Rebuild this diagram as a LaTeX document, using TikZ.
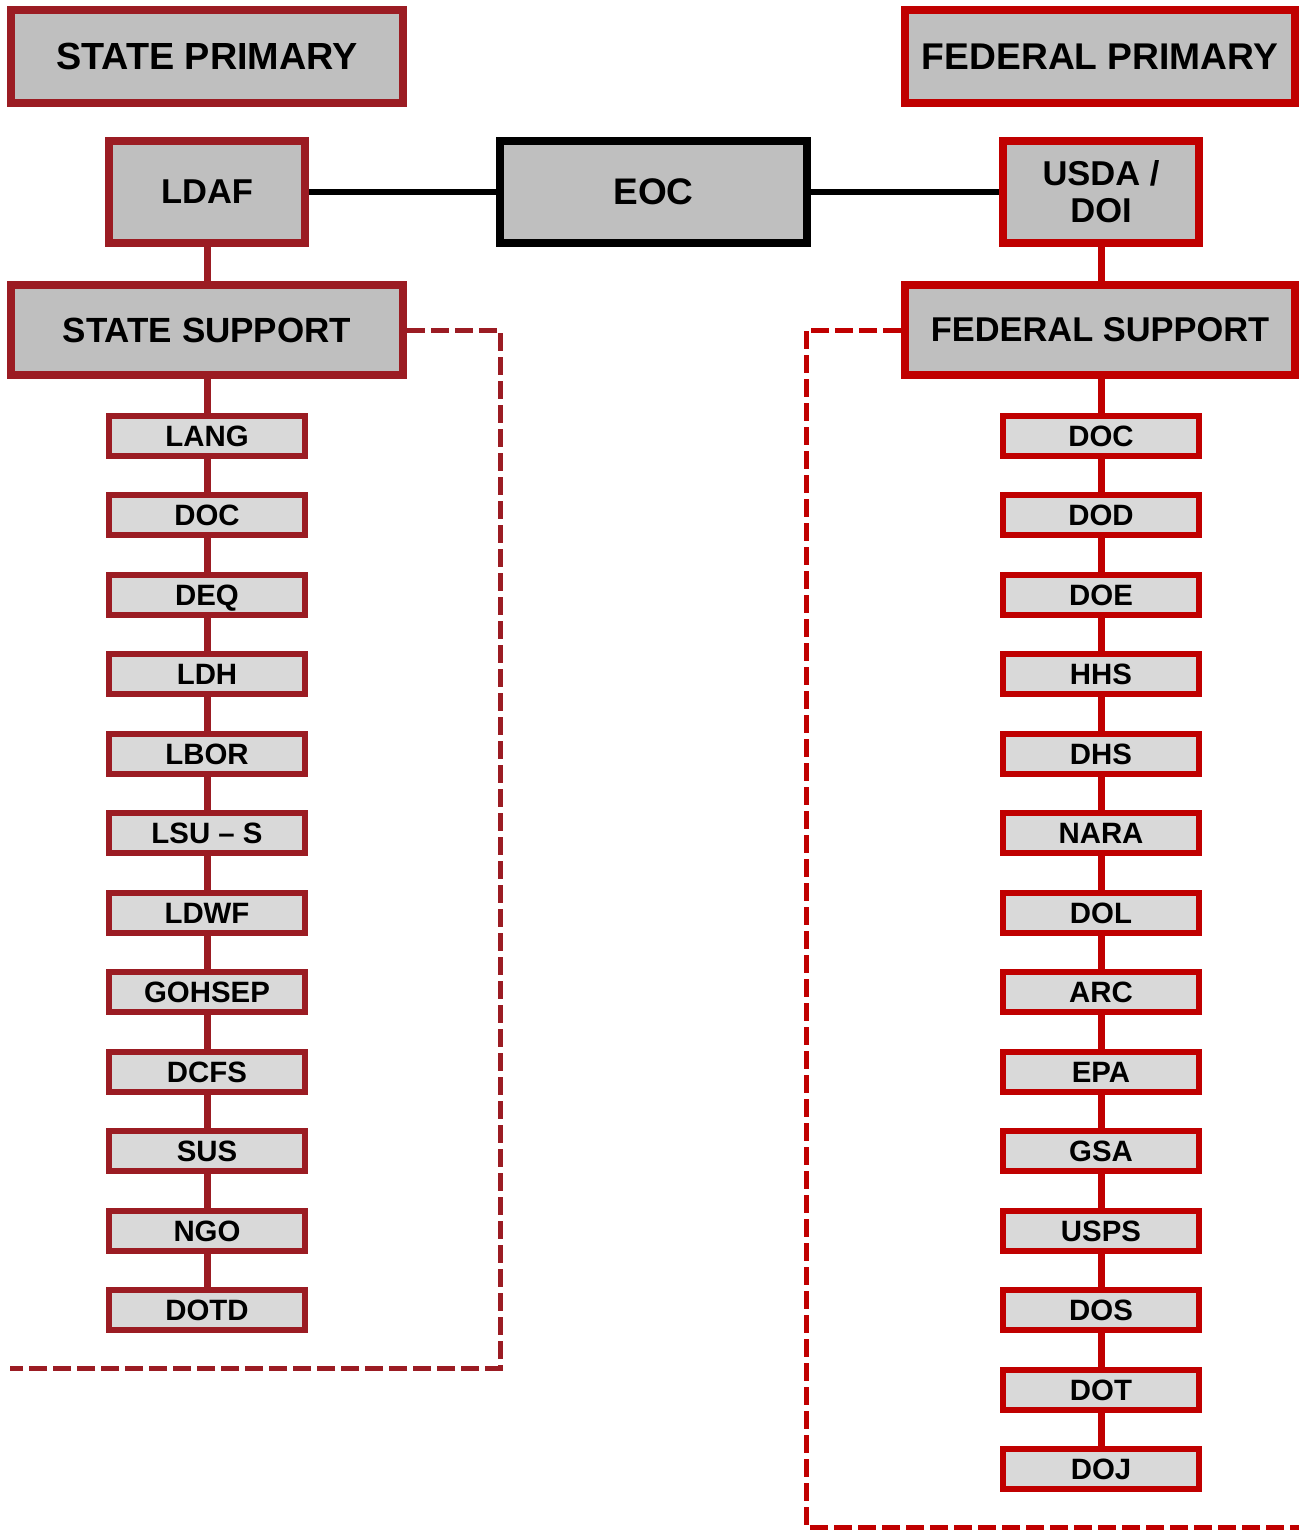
\documentclass[tikz,border=0pt]{standalone}
\usepackage{fontspec}
\setmainfont{Liberation Sans}
\definecolor{sred}{HTML}{9B1C23}
\definecolor{fred}{HTML}{C00000}
\definecolor{mainfill}{HTML}{BFBFBF}
\definecolor{smallfill}{HTML}{D9D9D9}
\begin{document}
\begin{tikzpicture}[x=1pt,y=-1pt,
  bigbox/.style={draw, line width=8pt, fill=mainfill, minimum width=392pt, minimum height=93pt, inner sep=0pt, font=\bfseries\fontsize{37.8}{40}\selectfont, align=center},
  supbox/.style={bigbox, minimum height=90pt, font=\bfseries\fontsize{35}{38}\selectfont},
  midbox/.style={draw, line width=8pt, fill=mainfill, minimum width=196pt, minimum height=102pt, inner sep=0pt, font=\bfseries\fontsize{34.5}{40}\selectfont, align=center},
  smallbox/.style={draw, line width=6pt, fill=smallfill, minimum width=196pt, minimum height=40pt, inner sep=0pt, text height=21pt, text depth=0pt, font=\bfseries\fontsize{29.4}{30}\selectfont},
  conn/.style={line width=7pt},
  dashconn/.style={line width=5pt, dash pattern=on 18pt off 6pt},
]
\useasboundingbox (0,0) rectangle (1299,1531);

\node[midbox, draw=black, minimum width=307pt, font=\bfseries\fontsize{37}{40}\selectfont] (eoc) at (653.5,192) {EOC};

% State side
\node[bigbox, draw=sred] (statep) at (207,56.5) {STATE PRIMARY};
\node[midbox, draw=sred] (ldaf) at (207,192) {LDAF};
\node[supbox, draw=sred] (states) at (207,330) {STATE SUPPORT};

% Federal side
\node[bigbox, draw=fred, minimum width=390pt, font=\bfseries\fontsize{37.2}{40}\selectfont] (fedp) at (1100,56.5) {FEDERAL PRIMARY};
\node[midbox, draw=fred] (usda) at (1101,192) {USDA /\\[-3pt]DOI};
\node[supbox, draw=fred, minimum width=390pt, font=\bfseries\fontsize{34.4}{38}\selectfont] (feds) at (1100,330) {FEDERAL SUPPORT};

\draw[line width=6pt] (ldaf.east) -- (eoc.west);
\draw[line width=6pt] (eoc.east) -- (usda.west);
\draw[conn, sred] (ldaf.south) -- (states.north);
\draw[conn, fred] (usda.south) -- (usda.south |- feds.north);

% State support list
\foreach \t [count=\i from 0] in {LANG,DOC,DEQ,LDH,LBOR,LSU – S,LDWF,GOHSEP,DCFS,SUS,NGO,DOTD} {
  \node[smallbox, draw=sred] (s\i) at (207,435.5+79.5*\i) {\t};
}
\draw[conn, sred] (states.south) -- (s0.north);
\foreach \i [evaluate=\i as \j using int(\i+1)] in {0,...,10} {
  \draw[conn, sred] (s\i.south) -- (s\j.north);
}

% Federal support list
\foreach \t [count=\i from 0] in {DOC,DOD,DOE,HHS,DHS,NARA,DOL,ARC,EPA,GSA,USPS,DOS,DOT,DOJ} {
  \node[smallbox, draw=fred] (f\i) at (1101,435.5+79.5*\i) {\t};
}
\draw[conn, fred] (f0.north |- feds.south) -- (f0.north);
\foreach \i [evaluate=\i as \j using int(\i+1)] in {0,...,12} {
  \draw[conn, fred] (f\i.south) -- (f\j.north);
}

% dashed brackets
\coordinate (la) at (500,330);
\coordinate (lb) at (500,1368);
\coordinate (lc) at (10,1368);
\draw[dashconn, sred] (states.east) -- (la) -- (lb) -- (lc);
\coordinate (ra) at (806,330);
\coordinate (rb) at (806,1527);
\coordinate (rc) at (1299,1527);
\draw[dashconn, fred] (feds.west) -- (ra) -- (rb) -- (rc);
\end{tikzpicture}
\end{document}
